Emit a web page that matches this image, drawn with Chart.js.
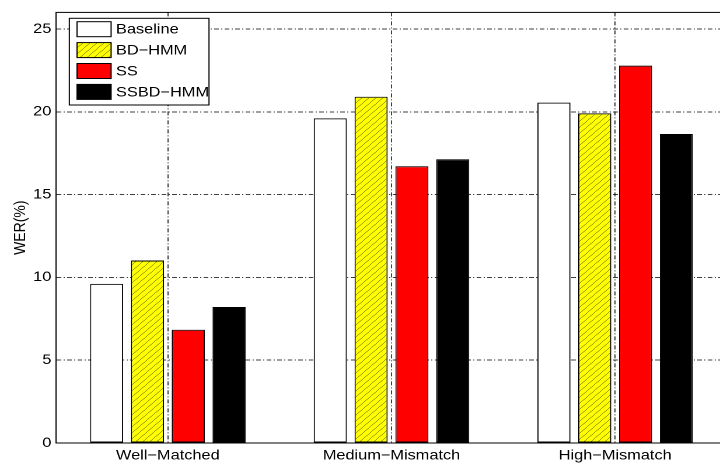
<!DOCTYPE html>
<html>
<head>
<meta charset="utf-8">
<script src="https://cdn.jsdelivr.net/npm/chart.js@4/dist/chart.umd.min.js"></script>
<style>
  html, body { margin: 0; padding: 0; background: #fff; overflow: hidden; }
  /* the source figure was stretched sideways, so the canvas is too */
  #wer { display: block; transform: scaleX(1.1669); transform-origin: 0 0; }
</style>
</head>
<body>
<canvas id="wer" width="630" height="463"></canvas>
<script>
// DATA
const categories = ["Well\u2212Matched", "Medium\u2212Mismatch", "High\u2212Mismatch"];
const seriesNames = ["Baseline", "BD\u2212HMM", "SS", "SSBD\u2212HMM"];
const baseline = [9.61, 19.6, 20.55];
const bdHmm = [11.02, 20.91, 19.9];
const ss = [6.84, 16.71, 22.79];
const ssbdHmm = [8.21, 17.13, 18.66];
const yTicks = [0, 5, 10, 15, 20, 25];

const FONT = "'Liberation Sans', Arial, Helvetica, sans-serif";

// yellow with black "/" hatching, like matlab's hatchfill
function makeHatch(ctx) {
  const c = document.createElement("canvas");
  c.width = 12;
  c.height = 12;
  const p = c.getContext("2d");
  p.fillStyle = "#ffff00";
  p.fillRect(0, 0, 12, 12);
  p.strokeStyle = "rgba(0,0,0,0.7)";
  p.lineWidth = 1;
  p.beginPath();
  p.moveTo(-6, 6); p.lineTo(6, -6);
  p.moveTo(0, 12); p.lineTo(12, 0);
  p.moveTo(6, 18); p.lineTo(18, 6);
  p.stroke();
  const pat = ctx.createPattern(c, "repeat");
  pat.setTransform(new DOMMatrix().scale(0.5));
  return pat;
}

const canvas = document.getElementById("wer");
const ctx = canvas.getContext("2d");
const hatch = makeHatch(ctx);

// box round the axes
const boxPlugin = {
  id: "box",
  afterDatasetsDraw(chart) {
    const a = chart.chartArea;
    const c = chart.ctx;
    c.save();
    c.strokeStyle = "#000";
    c.lineWidth = 1;
    c.strokeRect(a.left, a.top, a.right - a.left, a.bottom - a.top);
    c.restore();
  }
};

// legend drawn inside the axes, top left
const boxLegend = {
  id: "boxLegend",
  afterDraw(chart) {
    const c = chart.ctx;
    const x0 = 59.4, y0 = 18.3, w = 119.7, h = 86.7;
    c.save();
    c.fillStyle = "#fff";
    c.fillRect(x0, y0, w, h);
    c.strokeStyle = "#000";
    c.lineWidth = 1;
    c.strokeRect(x0, y0, w, h);
    c.font = "14px " + FONT;
    c.textBaseline = "middle";
    chart.data.datasets.forEach((ds, i) => {
      const cy = 29.2 + i * 20.9;
      c.fillStyle = ds.backgroundColor;
      c.fillRect(66, cy - 7.5, 29.2, 15);
      c.strokeStyle = "#000";
      c.strokeRect(66, cy - 7.5, 29.2, 15);
      c.fillStyle = "#000";
      c.fillText(ds.label, 99.4, cy + 0.5);
    });
    c.restore();
  }
};

// matlab '-.' grid; in Chart.js v4 the grid dash lives under border.dash
const gridDash = [4, 2, 1, 2];
const gridStyle = {
  display: true,
  color: "rgba(0,0,0,0.75)",
  lineWidth: 1,
  drawTicks: false
};

new Chart(ctx, {
  type: "bar",
  data: {
    labels: categories,
    datasets: [
      { label: seriesNames[0], data: baseline, backgroundColor: "#ffffff" },
      { label: seriesNames[1], data: bdHmm, backgroundColor: hatch },
      { label: seriesNames[2], data: ss, backgroundColor: "#ff0000" },
      { label: seriesNames[3], data: ssbdHmm, backgroundColor: "#000000" }
    ].map(ds => Object.assign(ds, {
      borderColor: "#000",
      borderWidth: 1,
      borderSkipped: false,
      categoryPercentage: 0.73,
      barPercentage: 0.81
    }))
  },
  options: {
    responsive: false,
    devicePixelRatio: 2,
    animation: false,
    events: [],
    layout: { padding: { top: 8, right: 7, left: 0, bottom: 0 } },
    plugins: {
      legend: { display: false },
      tooltip: { enabled: false }
    },
    scales: {
      x: {
        offset: true,
        grid: Object.assign({}, gridStyle, { offset: false }),
        border: { display: true, color: "#000", width: 1, dash: gridDash },
        ticks: {
          color: "#000",
          padding: 4,
          maxRotation: 0,
          autoSkip: false,
          font: { family: FONT, size: 14 }
        },
        afterFit(scale) { scale.height = 20; }
      },
      y: {
        min: 0,
        max: 26,
        grid: gridStyle,
        border: { display: true, color: "#000", width: 1, dash: gridDash },
        afterBuildTicks(scale) { scale.ticks = yTicks.map(v => ({ value: v })); },
        ticks: {
          color: "#000",
          padding: 4,
          font: { family: FONT, size: 14 }
        },
        title: {
          display: true,
          text: "WER(%)",
          color: "#000",
          padding: { top: 9, bottom: 0 },
          font: { family: FONT, size: 14 }
        },
        afterFit(scale) { scale.width = 48; }
      }
    }
  },
  plugins: [boxPlugin, boxLegend]
});
</script>
</body>
</html>
